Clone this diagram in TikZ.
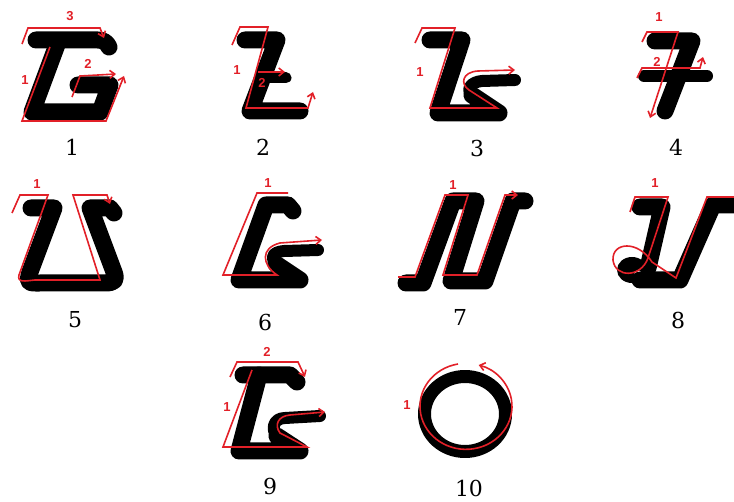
\documentclass[tikz,border=0pt]{standalone}
\usepackage{tikz}
\usetikzlibrary{arrows.meta}
\usepackage{fontspec}
\newfontfamily\capfont{DejaVu Serif}
\newfontfamily\numfont{Liberation Sans}
\definecolor{penred}{RGB}{226,32,40}

\begin{document}
\begin{tikzpicture}[x=1pt, y=-1pt,
			glyph/.style={draw=black, line width=17pt, line cap=round, line join=round},
			trace/.style={draw=penred, line width=1.6pt, line join=miter},
			arrow/.style={trace, -{Straight Barb[length=5pt, width=8pt]}},
			num/.style={text=penred, font=\numfont\bfseries\fontsize{13}{13}\selectfont, inner sep=0pt},
			caption/.style={font=\capfont\fontsize{22}{22}\selectfont, inner sep=0pt}
			]
			\useasboundingbox (0,0) rectangle (734,502);
			
			% 1
			\draw[glyph] (36,40) -- (98,40) .. controls (104,40) and (107,43) .. (109,47);
			\draw[glyph] (58,42) -- (32,112) -- (100,112) -- (110,85) -- (78,85);
			\draw[arrow] (22,44) -- (28,28) -- (100,28) -- (104,38);
			\draw[arrow] (50,47) -- (22,121) -- (106,121) -- (124,76);
			\draw[arrow] (72,97) -- (80,76) -- (116,74);
			\node[num] (s1c) at (70,16) {3};
			\node[num] (s1a) at (25,80) {1};
			\node[num] (s1b) at (88,64) {2};
			
			% 2
			\draw[glyph] (245,40) -- (277,40) -- (250,111) -- (300,111);
			\draw[glyph, line width=11pt] (263,78) -- (286,78);
			\draw[arrow] (232,45) -- (240,27) -- (268,27) -- (246,108) -- (308,108) -- (313,92);
			\draw[arrow] (258,72) -- (285,72);
			\node[num] (s2a) at (237,70) {1};
			\node[num] (s2b) at (262,83) {2};
			
			% 3
			\draw[glyph] (430,40) -- (462,40) -- (438,113) -- (499,113) -- (472,95);
			\draw[glyph, line width=12pt] (472,95) .. controls (466,90) and (470,82) .. (482,81) -- (515,80);
			\draw[arrow] (415,43) -- (422,28) -- (455,28) -- (430,108) -- (497,108) -- (469,90) .. controls (460,84) and (462,72) .. (478,71) -- (515,70);
			\node[num] (s3a) at (420,72) {1};
			
			% 4
			\draw[glyph] (655,41) -- (692,41) -- (665,111);
			\draw[glyph, line width=12pt] (644,76) -- (707,76);
			\draw[arrow] (642,42) -- (647,32) -- (678,32) -- (650,118);
			\draw[arrow] (637,78) -- (642,68) -- (700,68) -- (703,57);
			\node[num] (s4a) at (659,17) {1};
			\node[num] (s4b) at (657,62) {2};
			
			% 5
			\draw[glyph] (31,208) -- (54,208) -- (30,272) .. controls (26,284) and (30,283) .. (40,283) -- (105,283) .. controls (115,283) and (117,280) .. (114,272) -- (90,208) -- (110,208) -- (114,213);
			\draw[arrow] (12,213) -- (20,195) -- (48,195) -- (19,275) .. controls (17,283) and (25,281) .. (35,280) -- (100,280) -- (73,195) -- (107,195) -- (110,204);
			\node[num] (s5a) at (37,184) {1};
			
			% 6
			\draw[glyph] (293,211) -- (288,205) -- (266,205) -- (239,280) -- (300,280) -- (276,264);
			\draw[glyph, line width=12pt] (276,264) .. controls (270,258) and (272,252) .. (284,251) -- (318,250);
			\draw[arrow] (288,193) -- (257,193) -- (223,275) -- (277,275) .. controls (262,265) and (260,248) .. (280,243) -- (322,240);
			\node[num] (s6a) at (268,183) {1};
			
			% 7
			\draw[glyph] (406,283) -- (423,283) -- (453,201) -- (476,201) -- (451,281) -- (485,281) -- (513,201) -- (525,201);
			\draw[arrow] (398,277) -- (415,277) -- (445,195) -- (468,195) -- (443,275) -- (477,275) -- (505,195) -- (518,195);
			\node[num] (s7a) at (453,185) {1};
			
			% 8
			\draw[glyph] (640,207) -- (662,207) -- (648,268);
			\fill (632,270) ellipse (15 and 13);
			\fill[white] (638,275) ellipse (4 and 5);
			\draw[glyph] (640,280) -- (680,280) -- (713,205) -- (740,205);
			\draw[trace] (630,212) -- (635,197) -- (668,197) -- (648,258) .. controls (641,278) and (615,278) .. (613,260) .. controls (612,242) and (638,240) .. (652,262) -- (676,278) -- (707,197) -- (740,197);
			\node[num] (s8a) at (655,183) {1};
			
			% 9
			\draw[glyph] (297,382) -- (290,375) -- (243,375);
			\draw[glyph] (259,375) -- (239,451) -- (300,451) -- (277,436);
			\draw[glyph, line width=12pt] (277,436) .. controls (271,430) and (273,418) .. (285,418) -- (320,416);
			\draw[arrow] (252,370) -- (223,447) -- (307,447) -- (280,433) .. controls (274,425) and (278,416) .. (290,415) -- (325,412);
			\draw[arrow] (230,377) -- (237,362) -- (298,362) -- (305,377);
			\node[num] (s9a) at (227,407) {1};
			\node[num] (s9b) at (267,352) {2};
			
			% 10
			\draw[glyph, line width=13pt] (465,414) ellipse (40.5 and 37.5);
			\draw[arrow] (458,364) arc[start angle=260, end angle=-74, x radius=46, y radius=43];
			\node[num] (s10a) at (407,405) {1};
			
			\node[caption] (c1) at (72,147) {1};
			\node[caption] (c2) at (263,147) {2};
			\node[caption] (c3) at (477,148) {3};
			\node[caption] (c4) at (676,147) {4};
			\node[caption] (c5) at (75,320) {5};
			\node[caption] (c6) at (265,322) {6};
			\node[caption] (c7) at (460,317) {7};
			\node[caption] (c8) at (678,320) {8};
			\node[caption] (c9) at (270,486) {9};
			\node[caption] (c10) at (469,488) {10};
		\end{tikzpicture}
\end{document}
